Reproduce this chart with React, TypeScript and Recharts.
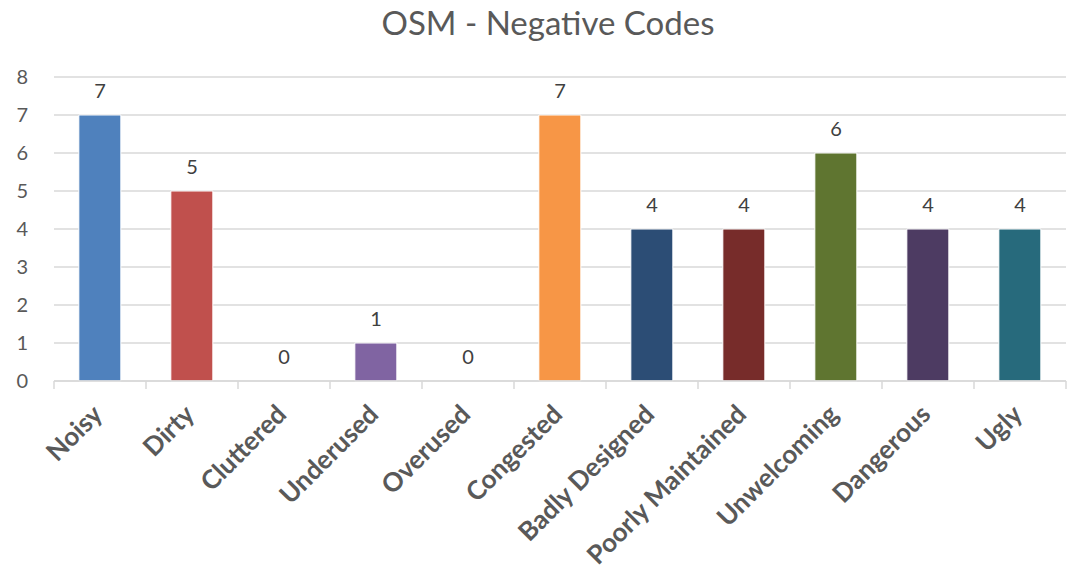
import { ComposedChart, Bar, Line, XAxis, YAxis, CartesianGrid, Cell, LabelList } from "recharts";

const categories = [
  "Noisy",
  "Dirty",
  "Cluttered",
  "Underused",
  "Overused",
  "Congested",
  "Badly Designed",
  "Poorly Maintained",
  "Unwelcoming",
  "Dangerous",
  "Ugly",
];
const counts = [7, 5, 0, 1, 0, 7, 4, 4, 6, 4, 4];
const barColors = [
  "#4f81bd",
  "#c0504d",
  "#9bbb59",
  "#8064a2",
  "#4bacc6",
  "#f79646",
  "#2c4d75",
  "#772c2a",
  "#5f7530",
  "#4d3b62",
  "#276a7c",
];
const yTicks = [0, 1, 2, 3, 4, 5, 6, 7, 8];

const data = categories.map((name, i) => ({ name, count: counts[i] }));

const FONT = "Lato, 'Open Sans', sans-serif";
const GRID = "#d9d9d9";

function CategoryTick(props: any) {
  const { x, y, payload, index } = props;
  const half = payload && payload.offset ? payload.offset : 46;
  const ax = x + 4;
  const ay = y + 35;
  return (
    <g>
      <line x1={x - half} y1={y} x2={x - half} y2={y + 8} stroke={GRID} strokeWidth={1.5} />
      {index === categories.length - 1 && (
        <line x1={x + half} y1={y} x2={x + half} y2={y + 8} stroke={GRID} strokeWidth={1.5} />
      )}
      <text
        x={ax}
        y={ay}
        transform={`rotate(-45, ${ax}, ${ay})`}
        textAnchor="end"
        fontFamily={FONT}
        fontWeight="bold"
        fontSize={26}
        fill="#595959"
      >
        {payload.value}
      </text>
    </g>
  );
}

export default function App() {
  return (
    <div style={{ position: "absolute", left: 0, top: 0, width: 1076, height: 570, background: "#fff" }}>
      <div
        style={{
          position: "absolute",
          left: 0,
          top: 2,
          width: 1096,
          textAlign: "center",
          fontFamily: FONT,
          fontSize: 33,
          color: "#595959",
        }}
      >
        OSM - Negative Codes
      </div>
      <ComposedChart
        width={1076}
        height={570}
        data={data}
        margin={{ top: 77, right: 10, bottom: 0, left: 0 }}
        barCategoryGap="27%"
      >
        <CartesianGrid vertical={false} stroke={GRID} strokeWidth={1.3} />
        <XAxis
          dataKey="name"
          interval={0}
          height={189}
          tickLine={false}
          tickSize={0}
          tickMargin={0}
          axisLine={{ stroke: GRID, strokeWidth: 1.5 }}
          tick={<CategoryTick />}
        />
        <YAxis
          width={54}
          domain={[0, 8]}
          ticks={yTicks}
          interval={0}
          axisLine={false}
          tickLine={false}
          tickMargin={20}
          tick={{ fontFamily: FONT, fontSize: 20, fill: "#595959" }}
        />
        <Bar dataKey="count" isAnimationActive={false} stroke="#ffffff" strokeWidth={1}>
          {data.map((d, i) => (
            <Cell key={d.name} fill={barColors[i]} />
          ))}
        </Bar>
        <Line
          dataKey="count"
          isAnimationActive={false}
          stroke="none"
          dot={false}
          activeDot={false}
          legendType="none"
        >
          <LabelList
            dataKey="count"
            position="top"
            offset={17}
            style={{ fontFamily: FONT, fontSize: 20, fill: "#404040" }}
          />
        </Line>
      </ComposedChart>
    </div>
  );
}
